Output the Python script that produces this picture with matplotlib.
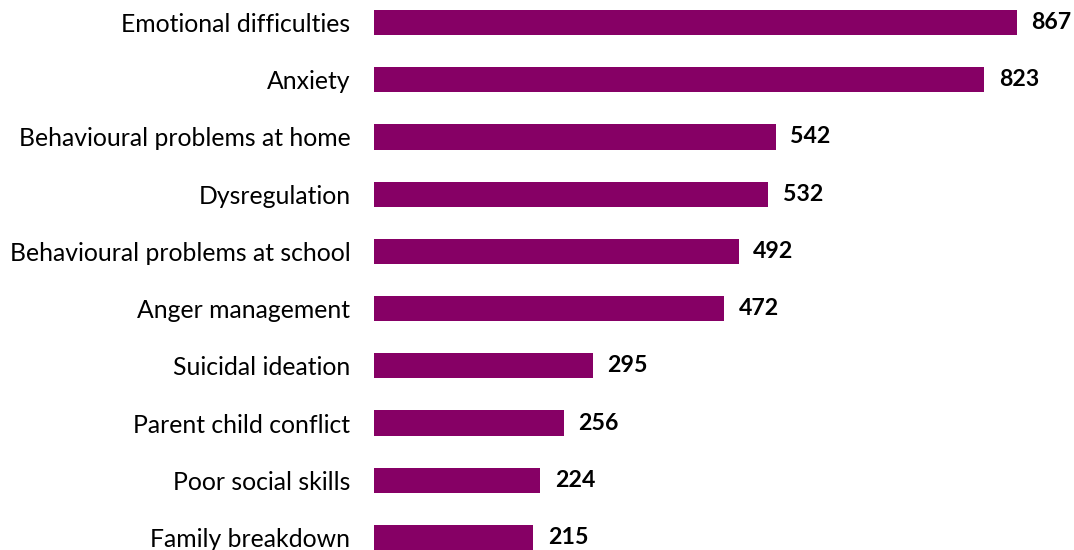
import matplotlib
matplotlib.use("Agg")
import matplotlib.pyplot as plt

categories = ["Emotional difficulties", "Anxiety", "Behavioural problems at home",
              "Dysregulation", "Behavioural problems at school", "Anger management",
              "Suicidal ideation", "Parent child conflict", "Poor social skills",
              "Family breakdown"]
values = [867, 823, 542, 532, 492, 472, 295, 256, 224, 215]

plt.rcParams['font.family'] = ['Lato', 'DejaVu Sans']
W, H = 1074, 550
fig = plt.figure(figsize=(W / 100, H / 100), dpi=100)
ax = fig.add_axes([374 / W, 0, 1 - 374 / W, 1])
y = list(range(len(categories)))
ax.barh(y, values, height=0.44, color="#860065")
ax.set_xlim(0, 700 / 0.7413)
ax.set_ylim(9.218, -0.393)
ax.set_yticks(y)
ax.set_yticklabels(categories, fontsize=17.8, color="#000000")
ax.tick_params(axis='y', length=0, pad=17)
ax.set_xticks([])
for s in ax.spines.values():
    s.set_visible(False)
for yi, v in zip(y, values):
    ax.annotate(str(v), (v, yi), xytext=(10.5, 0), textcoords="offset points",
                va="center", ha="left", fontsize=16.7, fontweight="bold")
fig.savefig("out.png", dpi=100)
